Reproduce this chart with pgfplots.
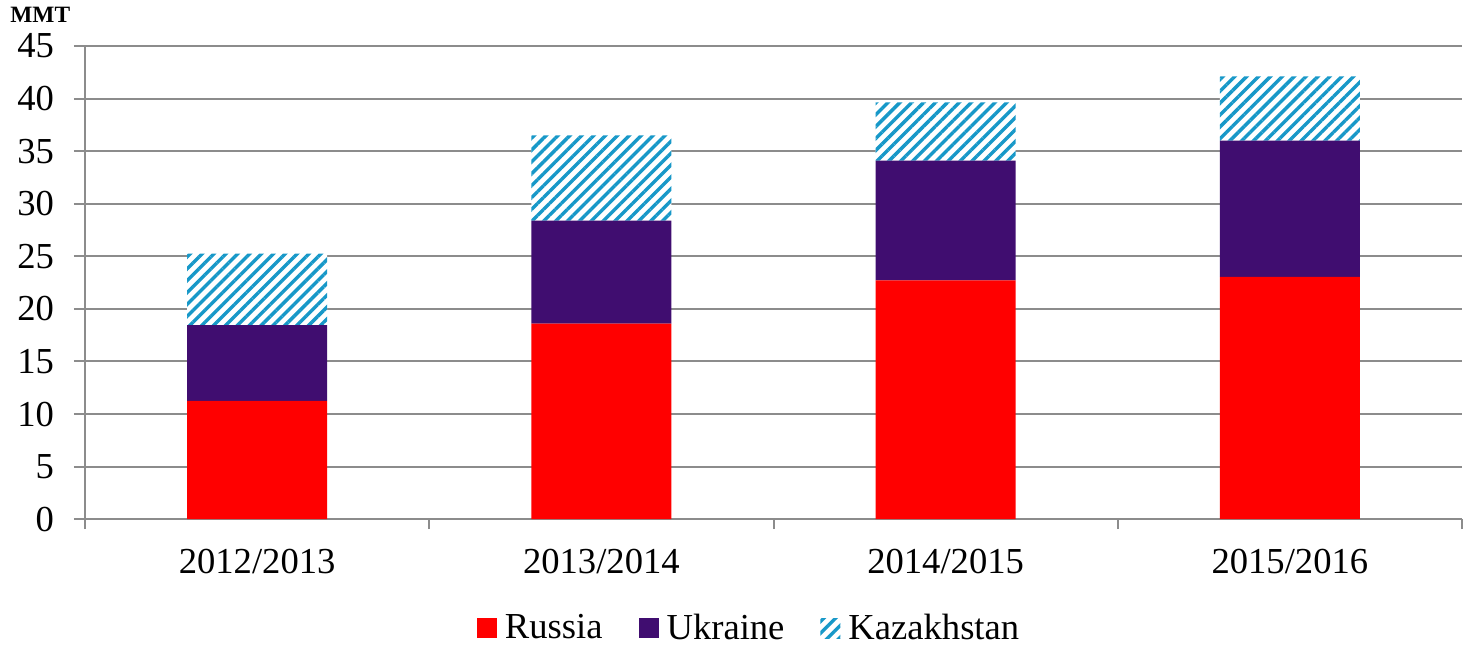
\documentclass[border=0pt]{standalone}
\usepackage{fontspec}
\setmainfont{Liberation Serif}
\usepackage{pgfplots}
\pgfplotsset{compat=1.18}
\usetikzlibrary{patterns.meta}
\definecolor{ruRed}{HTML}{FF0000}
\definecolor{uaPurple}{HTML}{400D70}
\definecolor{kzBlue}{HTML}{1798C8}
\definecolor{gridGray}{HTML}{8C8C8C}
\pgfplotsset{sqleg/.style={legend image code/.code={\fill[##1] (0bp,-5bp) rectangle (10bp,5bp);}}}
\begin{document}
\begin{tikzpicture}
\path[use as bounding box] (0,0) rectangle (734bp,323bp);
\node[anchor=west, inner sep=0pt, font=\fontsize{11.7bp}{14bp}\selectfont\bfseries] at (5bp,315.5bp) {MMT};
\begin{axis}[
  at={(42.5bp,63.4bp)}, anchor=south west,
  scale only axis, width=688.5bp, height=236.6bp,
  ybar stacked, bar width=70bp,
  xmin=-0.5, xmax=3.5, ymin=0, ymax=45,
  ytick={0,5,...,45},
  xtick={0,1,2,3},
  xticklabels={2012/2013,2013/2014,2014/2015,2015/2016},
  axis x line*=bottom, axis y line*=left,
  axis line style={gridGray, line width=1bp},
  ymajorgrids, grid style={gridGray, line width=1bp},
  tick align=outside,
  major tick length=5.5bp,
  ytick style={gridGray, line width=1bp},
  xtick style={draw=none},
  extra x ticks={-0.5,0.5,1.5,2.5,3.5},
  extra x tick labels={},
  extra x tick style={xtick style={draw=gridGray, line width=1bp}, major tick length=5bp, grid=none},
  tick label style={font=\fontsize{18.3bp}{22bp}\selectfont},
  yticklabel style={anchor=east, xshift=-6.5bp},
  xticklabel style={anchor=north, yshift=-6bp},
  /pgf/number format/assume math mode=true,
  legend style={at={(0.483,-0.2303)}, anchor=center, draw=none, legend columns=3,
    font=\fontsize{18.3bp}{22bp}\selectfont,
    /tikz/every even column/.append style={column sep=16bp},
    nodes={inner sep=2bp}},
  legend cell align=left,
]
\addplot[fill=ruRed, draw=none, sqleg]
  coordinates {(0,11.25) (1,18.6) (2,22.7) (3,23.05)};
\addlegendentry{\hspace{2bp}Russia}
\addplot[fill=uaPurple, draw=none, sqleg]
  coordinates {(0,7.2) (1,9.8) (2,11.4) (3,12.95)};
\addlegendentry{\hspace{2bp}Ukraine}
\addplot[fill=white, draw=none, sqleg,
  postaction={pattern={Lines[angle=45,distance=4.2bp,line width=1.7bp]}, pattern color=kzBlue}]
  coordinates {(0,6.8) (1,8.1) (2,5.55) (3,6.1)};
\addlegendentry{\hspace{2bp}Kazakhstan}
\end{axis}
\end{tikzpicture}
\end{document}
